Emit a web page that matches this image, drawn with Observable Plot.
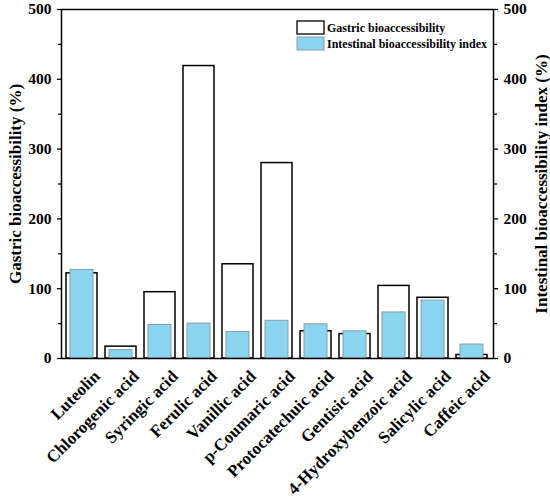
<!DOCTYPE html>
<html><head><meta charset="utf-8">
<script src="https://cdn.jsdelivr.net/npm/d3@7"></script>
<script src="https://cdn.jsdelivr.net/npm/@observablehq/plot@0.6"></script>
<style>
body{margin:0;background:#fff}
svg{font-family:"Liberation Serif","Times New Roman",serif;font-weight:bold}
</style>
</head><body><div id="chart"></div>
<script>
const compounds = ["Luteolin","Chlorogenic acid","Syringic acid","Ferulic acid","Vanillic acid","p-Coumaric acid","Protocatechuic acid","Gentisic acid","4-Hydroxybenzoic acid","Salicylic acid","Caffeic acid"];
const gastric = [122, 17, 95, 419, 135, 280, 39, 35, 104, 87, 5];
const intestinal = [127, 12, 48, 50, 38, 54, 49, 39, 66, 83, 20];
const yTicks = [0,100,200,300,400,500];
const yMinorTicks = [50,150,250,350,450];
const seriesNames = ["Gastric bioaccessibility","Intestinal bioaccessibility index"];
const leftTitle = "Gastric bioaccessibility (%)";
const rightTitle = "Intestinal bioaccessibility index (%)";

const rows = compounds.map((c,i)=>({compound:c, gastric:gastric[i], intestinal:intestinal[i]}));
const FONT = '"Liberation Serif","Times New Roman",serif';
const BLUE = "#89D5EF";
const BLUE_STROKE = "#8a9ca6";

const plot = Plot.plot({
  width:550, height:498,
  marginLeft:61, marginRight:57, marginTop:9, marginBottom:140,
  style:{fontFamily:FONT, fontWeight:"bold", fontSize:"15px", background:"white", color:"black"},
  x:{domain:compounds, paddingInner:0.2, paddingOuter:0.1, label:null},
  y:{domain:[0,500], label:null},
  marks:[
    Plot.barY(rows,{x:"compound", y:"gastric", fill:"white", stroke:"black", strokeWidth:1.5}),
    Plot.barY(rows,{x:"compound", y:"intestinal", fill:BLUE, stroke:BLUE_STROKE, strokeWidth:1, insetLeft:4, insetRight:4}),
    Plot.frame({stroke:"black", strokeWidth:1.5}),
    Plot.axisY({anchor:"left", ticks:yTicks, tickSize:4, tickPadding:6, strokeWidth:1.3, label:null, fontSize:15.5}),
    Plot.axisY({anchor:"left", ticks:yMinorTicks, tickSize:3, tickFormat:()=> "", strokeWidth:1.3, label:null}),
    Plot.axisY({anchor:"right", ticks:yTicks, tickSize:4, tickPadding:6, strokeWidth:1.3, label:null, fontSize:15.5}),
    Plot.axisY({anchor:"right", ticks:yMinorTicks, tickSize:3, tickFormat:()=> "", strokeWidth:1.3, label:null}),
    Plot.axisX({tickRotate:-45, tickSize:0, tickPadding:15, dx:15, label:null, fontSize:17}),
    Plot.text([leftTitle],{text:d=>d, frameAnchor:"left", textAnchor:"middle", rotate:-90, dx:-46, fontSize:17, fontWeight:"bold"}),
    Plot.text([rightTitle],{text:d=>d, frameAnchor:"right", textAnchor:"middle", rotate:-90, dx:48, fontSize:17, fontWeight:"bold"})
  ]
});

// legend inside plot (top right)
const svg = d3.select(plot);
const lg = svg.append("g").attr("font-family", FONT).attr("font-weight","bold").attr("font-size", 12).attr("text-anchor","start");
const fills = ["white", BLUE], strokes = ["black", BLUE_STROKE];
seriesNames.forEach((name,i)=>{
  const y0 = 21 + i*16;
  lg.append("rect").attr("x",297).attr("y",y0).attr("width",27).attr("height",13)
    .attr("fill",fills[i]).attr("stroke",strokes[i]).attr("stroke-width", i===0?1.3:1);
  lg.append("text").attr("x",327).attr("y",y0+10.5).text(name);
});

document.getElementById("chart").appendChild(plot);
</script>
</body></html>
